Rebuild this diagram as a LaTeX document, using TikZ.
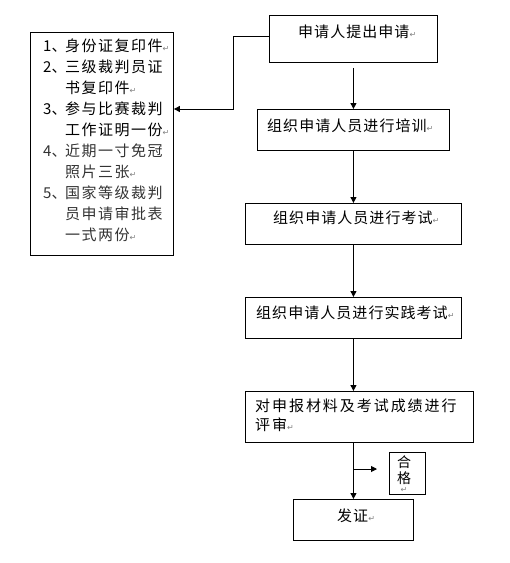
\documentclass[tikz,border=0pt]{standalone}
\usepackage{fontspec}
\usetikzlibrary{arrows.meta,calc}
\newfontfamily\cjkA[LetterSpace=7]{Noto Sans CJK SC}
\newfontfamily\cjkB[LetterSpace=10]{Noto Sans CJK SC}
\newfontfamily\cjkC[LetterSpace=13]{Noto Sans CJK SC}
\newfontfamily\dejavu{DejaVu Sans}
\newcommand\parmark{\textcolor{gray}{\dejavu\fontsize{8}{8}\selectfont ↵}}
\newcommand\grtxt[1]{\textcolor{black!80}{#1}}
\newcommand\dun{\makebox[8pt][l]{、}}
\begin{document}
\begin{tikzpicture}[x=1pt,y=-1pt,
  box/.style={draw,line width=0.9pt,inner sep=0,anchor=north west},
  arr/.style={draw,line width=0.9pt,-{Triangle[length=6pt,width=6pt]}},
  txt/.style={inner sep=0,anchor=base west,font=\fontsize{15}{18}\selectfont\cjkA},
  txtC/.style={inner sep=0,anchor=base west,font=\fontsize{15}{18}\selectfont\cjkC},
  ltxt/.style={inner sep=0,anchor=base west,font=\fontsize{15}{21}\selectfont\cjkB}]
\useasboundingbox (0,0) rectangle (510,563);
% boxes
\node[box,minimum width=143pt,minimum height=223pt] (L) at (30,32) {};
\node[box,minimum width=168pt,minimum height=47pt] (b1) at (269,15) {};
\node[box,minimum width=192pt,minimum height=41pt] (b2) at (257,109) {};
\node[box,minimum width=216pt,minimum height=41pt] (b3) at (245,203) {};
\node[box,minimum width=216pt,minimum height=41pt] (b4) at (245,297) {};
\node[box,minimum width=228pt,minimum height=51pt] (b5) at (245,391) {};
\node[box,minimum width=36pt,minimum height=42pt] (hg) at (389,452) {};
\node[box,minimum width=120pt,minimum height=41pt] (b6) at (293,499) {};
% texts
\node[txt] (t1) at (298,37.5) {申请人提出申请\parmark};
\node[txt] (t2) at (267,131.5) {组织申请人员进行培训\parmark};
\node[txt] (t3) at (273,223.5) {组织申请人员进行考试\parmark};
\node[txt] (t4) at (256,318.5) {组织申请人员进行实践考试\parmark};
\node[txtC] (t5a) at (255,411.5) {对申报材料及考试成绩进行};
\node[txtC] (t5b) at (255,430.5) {评审\parmark};
\node[txt] (t6) at (337,521.5) {发证\parmark};
\node[inner sep=0,anchor=base,font=\fontsize{14}{14}\selectfont\cjkA] (h1) at (404,467.5) {合};
\node[inner sep=0,anchor=base,font=\fontsize{14}{14}\selectfont\cjkA] (h2) at (404,483.5) {格};
\node[inner sep=0,anchor=base] (h3) at (404,492) {\parmark};
\node[ltxt] (lnum) at (43,51.5) {\begin{tabular}[t]{@{}l@{}}
1\dun\\2\dun\\ \\3\dun\\ \\\grtxt{4\dun}\\ \\\grtxt{5\dun}\\ \\ 
\end{tabular}};
\node[ltxt] (ltext) at (65,51.5) {\begin{tabular}[t]{@{}l@{}}
身份证复印件\parmark\\
三级裁判员证\\
书复印件\parmark\\
参与比赛裁判\\
工作证明一份\parmark\\
\grtxt{近期一寸免冠}\\
\grtxt{照片三张}\parmark\\
\grtxt{国家等级裁判}\\
\grtxt{员申请审批表}\\
\grtxt{一式两份}\parmark
\end{tabular}};
% connectors
\coordinate (k1) at (233,36);
\coordinate (k2) at (233,109);
\draw[arr] (b1.west |- k1) -- (k1) -- (k2) -- (k2 -| L.east);
\draw[arr] ($(b1.south)+(0,5)$) -- (b2.north);
\draw[arr] (b2.south) -- (b3.north);
\draw[arr] (b3.south) -- (b4.north);
\draw[arr] (b4.south) -- (b4.south |- b5.north);
\draw[arr] (b4.south |- b5.south) -- (b6.north);
\coordinate (jy) at (0,469);
\coordinate (j) at (b4.south |- jy);
\coordinate (hgtip) at (377,469);
\draw[arr] (j) -- (hgtip);
\end{tikzpicture}
\end{document}
